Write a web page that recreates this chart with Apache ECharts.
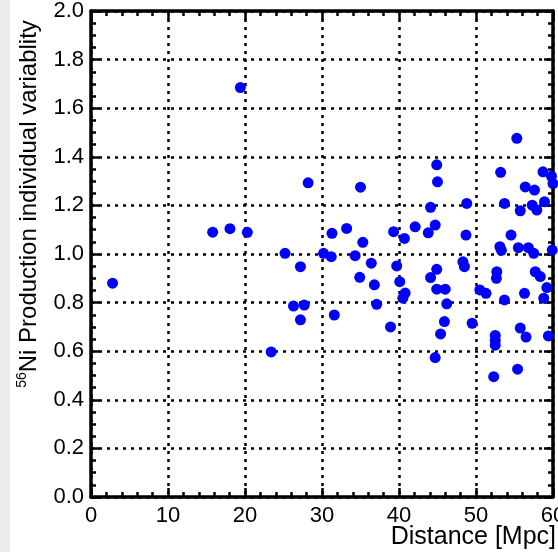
<!DOCTYPE html>
<html><head><meta charset="utf-8">
<script src="https://cdn.jsdelivr.net/npm/echarts@6/dist/echarts.min.js"></script>
<style>html,body{margin:0;padding:0;background:#fff}#c{width:558px;height:552px}</style>
</head><body><div id="c"></div>
<script>
const distance = [2.8,15.8,18.05,19.4,20.3,23.4,25.2,26.3,27.2,27.7,27.2,28.2,30.2,31.2,31.3,31.6,33.2,34.3,34.9,35.0,35.3,36.4,36.8,37.1,38.9,39.3,39.7,40.1,40.5,40.8,40.7,42.1,43.8,44.1,44.1,44.7,44.7,44.9,45.0,44.9,44.9,46.0,46.2,45.9,45.4,48.3,48.5,48.7,48.8,49.5,50.5,51.3,52.3,52.5,52.5,52.5,52.7,52.65,53.1,53.2,53.7,53.7,54.55,55.3,55.4,55.5,55.75,55.75,56.3,56.4,56.5,56.8,57.3,57.5,57.6,57.7,57.9,58.35,58.7,58.8,58.9,59.2,59.4,59.8,59.9,60.0,53.3];
const variability = [0.88,1.09,1.104,1.685,1.089,0.597,1.003,0.786,0.948,0.79,0.729,1.293,1.003,0.989,1.085,0.749,1.105,0.993,0.904,1.275,1.048,0.962,0.873,0.793,0.70,1.092,0.951,0.886,0.818,0.839,1.064,1.112,1.087,1.192,0.903,1.119,0.574,1.367,1.297,0.937,0.855,0.855,0.795,0.722,0.671,0.968,0.948,1.078,1.208,0.715,0.852,0.838,0.495,0.665,0.645,0.625,0.927,0.900,1.03,1.336,1.208,0.811,1.078,1.476,0.526,1.026,1.178,0.695,0.838,1.276,0.658,1.026,1.201,1.003,1.263,0.927,1.181,0.907,1.338,0.818,1.215,0.862,0.663,1.32,1.016,1.29,1.015];
const xTicks = [0,10,20,30,40,50,60];
const yTicks = ['0.0','0.2','0.4','0.6','0.8','1.0','1.2','1.4','1.6','1.8','2.0'];
const xName = 'Distance [Mpc]';
const yName = 'Ni Production individual variablity';

const points = distance.map((d,i)=>[d, variability[i]]);
const font = 'Liberation Sans, Arial, sans-serif';
function frameAxis(extra, minorSplit) {
  const base = {
    axisLine:{show:true, onZero:false, lineStyle:{color:'#000', width:3.5, type:'solid'}},
    axisTick:{show:true, inside:true, length:9, lineStyle:{color:'#000', width:2.5, type:'solid'}},
    minorTick:{show:true, splitNumber:minorSplit, length:5, lineStyle:{color:'#000', width:2.5, type:'solid'}},
    splitLine:{show:false},
    nameMoveOverlap:false
  };
  return Object.assign(base, extra);
}

const chart = echarts.init(document.getElementById('c'), null, {renderer:'canvas'});
chart.setOption({
  backgroundColor:'#fff',
  animation:false,
  graphic:[{type:'rect', shape:{x:0,y:0,width:10,height:552}, style:{fill:'#ececec'}, z:-10}],
  grid:{left:91, right:5, top:11, bottom:55, containLabel:false, outerBoundsMode:'none'},
  xAxis:[
    frameAxis({type:'value', min:0, max:60, interval:10, position:'bottom',
      axisLabel:{show:true, color:'#000', fontFamily:font, fontSize:22, margin:8, showMaxLabel:true, hideOverlap:false,
        formatter:(v)=> xTicks.includes(v) ? String(v) : ''},
      splitLine:{show:true, lineStyle:{color:'#000', width:2.5, type:[3,5]}},
      name:xName, nameLocation:'end', nameGap:3,
      nameTextStyle:{color:'#000', fontFamily:font, fontSize:25, align:'right', verticalAlign:'top', padding:[28,0,0,0]}
    }, 5),
    frameAxis({type:'value', min:0, max:60, interval:10, position:'top', axisLabel:{show:false}}, 5)
  ],
  yAxis:[
    frameAxis({type:'value', min:0, max:2, interval:0.2, position:'left',
      axisLabel:{show:true, color:'#000', fontFamily:font, fontSize:22, margin:7, hideOverlap:false,
        formatter:(v)=> yTicks[Math.round(v*5)]},
      splitLine:{show:true, lineStyle:{color:'#000', width:2.5, type:[3,5]}},
      name:'{sup|56}{main|'+yName+'}', nameLocation:'middle', nameGap:48, nameRotate:90,
      nameTextStyle:{color:'#000', fontFamily:font, fontSize:24, padding:[0,0,0,100],
        rich:{sup:{fontSize:14, fontFamily:font, color:'#000', verticalAlign:'top', lineHeight:28},
              main:{fontSize:24, fontFamily:font, color:'#000', lineHeight:28}}}
    }, 4),
    frameAxis({type:'value', min:0, max:2, interval:0.2, position:'right', axisLabel:{show:false}}, 4)
  ],
  series:[{
    type:'scatter', xAxisIndex:0, yAxisIndex:0, data:points, symbol:'circle', symbolSize:11,
    clip:false, itemStyle:{color:'#0000ff', opacity:1}, z:5
  }]
});
</script></body></html>
